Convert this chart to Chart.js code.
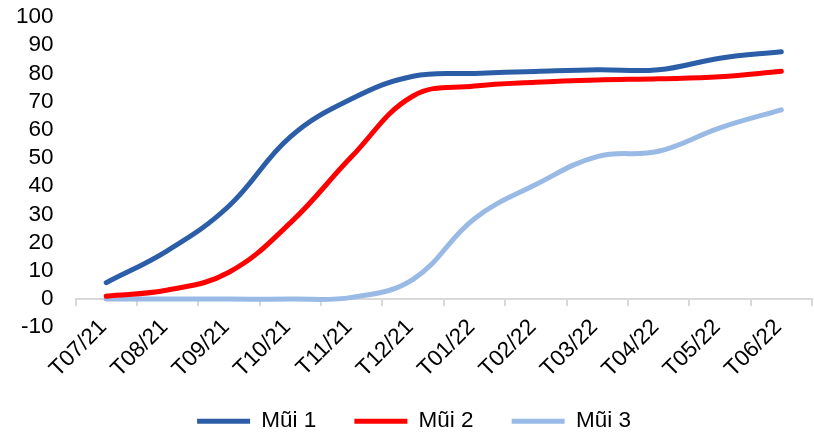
<!DOCTYPE html>
<html>
<head>
<meta charset="utf-8">
<script src="https://cdn.jsdelivr.net/npm/chart.js@4"></script>
<style>
  html, body { margin: 0; padding: 0; background: #fff; }
</style>
</head>
<body>
<canvas id="tiemChart" width="814" height="433"></canvas>
<script>
  // Tỷ lệ tiêm chủng theo tháng (%)
  const thang = ['T07/21', 'T08/21', 'T09/21', 'T10/21', 'T11/21', 'T12/21',
                 'T01/22', 'T02/22', 'T03/22', 'T04/22', 'T05/22', 'T06/22'];
  const mui1 = [5.8, 17.2, 33, 57.5, 71, 79, 80, 80.7, 81.3, 81.3, 85.4, 87.7];
  const mui2 = [1, 3.2, 9.5, 27, 50.5, 72, 75.5, 76.9, 77.7, 78.1, 78.8, 80.8];
  const mui3 = [0, 0, 0, 0, 0.6, 7, 28.5, 40.6, 50.5, 52.4, 60.7, 67.1];
  const yTicks = [-10, 0, 10, 20, 30, 40, 50, 60, 70, 80, 90, 100];

  const font = { family: "'Liberation Sans', Arial, sans-serif", size: 22.5 };

  function series(label, data, color) {
    return {
      label: label,
      data: data,
      borderColor: color,
      backgroundColor: color,
      borderWidth: 5,
      borderCapStyle: 'round',
      borderJoinStyle: 'round',
      tension: 0.4,
      pointRadius: 0,
      pointHoverRadius: 0,
      pointStyle: 'line',
      fill: false
    };
  }

  // bỏ phần đệm do nhãn trục gây ra, vùng vẽ lấy theo layout.padding
  function noPadding(scale) {
    scale.paddingTop = 0;
    scale.paddingBottom = 0;
    scale.paddingLeft = 0;
    scale.paddingRight = 0;
  }

  const ctx = document.getElementById('tiemChart');

  var chart = new Chart(ctx, {
    type: 'line',
    data: {
      labels: thang,
      datasets: [
        series('Mũi 1', mui1, '#2B5EA7'),
        series('Mũi 2', mui2, '#FF0000'),
        series('Mũi 3', mui3, '#9ABAE6')
      ]
    },
    options: {
      responsive: false,
      animation: false,
      layout: { padding: { left: 16, top: 17, right: 2, bottom: -9.5 } },
      plugins: {
        tooltip: { enabled: false },
        legend: {
          position: 'bottom',
          labels: {
            usePointStyle: true,
            pointStyle: 'line',
            pointStyleWidth: 53,
            boxHeight: 22,
            padding: 38,
            color: '#000',
            font: font
          }
        }
      },
      scales: {
        // trục của dữ liệu, chỉ giữ chỗ cho nhãn tháng
        x: {
          offset: true,
          afterFit: (scale) => { noPadding(scale); scale.height = 44.75; },
          grid: { display: false, drawTicks: false },
          border: { display: false },
          ticks: { display: false }
        },
        // trục ngang cắt tại 0, nhãn tháng xoay 45°
        x0: {
          type: 'category',
          position: { y: 0 },
          offset: true,
          afterFit: noPadding,
          grid: {
            offset: true,
            drawOnChartArea: false,
            drawTicks: true,
            tickLength: 6,
            color: '#D9D9D9',
            lineWidth: 2
          },
          border: { color: '#D9D9D9', width: 2 },
          ticks: {
            autoSkip: false,
            maxRotation: 45,
            minRotation: 45,
            padding: 9,
            labelOffset: -3,
            color: '#000',
            font: font
          }
        },
        y: {
          min: -10,
          max: 100,
          afterBuildTicks: (axis) => { axis.ticks = yTicks.map(v => ({ value: v })); },
          afterFit: (scale) => { noPadding(scale); scale.width = 59.5; },
          grid: { display: false, drawTicks: false },
          border: { display: false },
          ticks: {
            autoSkip: false,
            padding: 22,
            color: '#000',
            font: font
          }
        }
      }
    }
  });
</script>
</body>
</html>
